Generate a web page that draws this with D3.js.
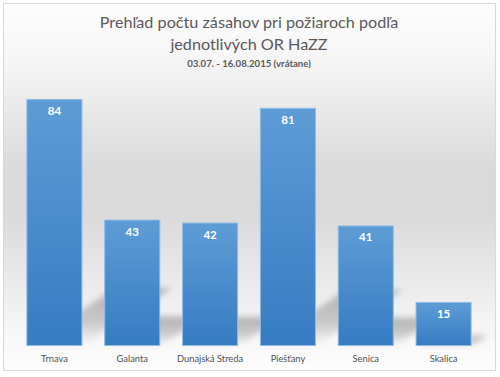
<!DOCTYPE html>
<html>
<head>
<meta charset="utf-8">
<script src="https://cdn.jsdelivr.net/npm/d3@7"></script>
<style>
  body { margin: 0; background: #fff; }
  svg { display: block; }
</style>
</head>
<body>
<svg id="chart" width="500" height="377"></svg>
<script>
// chart data
const categories = ['Trnava', 'Galanta', 'Dunajská Streda', 'Piešťany', 'Senica', 'Skalica'];
const values = [84, 43, 42, 81, 41, 15];
const titleLines = ['Prehľad počtu zásahov pri požiaroch podľa', 'jednotlivých OR HaZZ'];
const subtitle = '03.07. - 16.08.2015 (vrátane)';

const svg = d3.select('#chart');
const font = 'Lato, "Open Sans", sans-serif';
const defs = svg.append('defs');

// background gradient (white -> gray -> white)
const bg = defs.append('linearGradient').attr('id', 'bg').attr('x1', 0).attr('y1', 0).attr('x2', 0).attr('y2', 1);
[[0, '#fdfdfd'], [0.15, '#f6f6f6'], [0.45, '#dadada'], [0.58, '#dadada'], [0.9, '#f7f7f7'], [1, '#fdfdfd']]
    .forEach(([o, c]) => bg.append('stop').attr('offset', o).attr('stop-color', c));

const barGrad = defs.append('linearGradient').attr('id', 'bar').attr('x1', 0).attr('y1', 0).attr('x2', 0).attr('y2', 1);
barGrad.append('stop').attr('offset', 0).attr('stop-color', '#5d9cd6');
barGrad.append('stop').attr('offset', 1).attr('stop-color', '#367cc3');

const shadowGrad = defs.append('linearGradient').attr('id', 'shadow').attr('x1', 0).attr('y1', 0).attr('x2', 0).attr('y2', 1);
shadowGrad.append('stop').attr('offset', 0).attr('stop-color', '#a0a0a0').attr('stop-opacity', 0.8);
shadowGrad.append('stop').attr('offset', 0.6).attr('stop-color', '#a8a8a8').attr('stop-opacity', 0.55);
shadowGrad.append('stop').attr('offset', 1).attr('stop-color', '#c0c0c0').attr('stop-opacity', 0.05);

defs.append('filter').attr('id', 'blur').attr('x', '-20%').attr('y', '-20%').attr('width', '140%').attr('height', '140%')
    .append('feGaussianBlur').attr('stdDeviation', 3);

svg.append('rect')
    .attr('x', 3.5).attr('y', 3.5).attr('width', 492).attr('height', 367)
    .attr('fill', 'url(#bg)').attr('stroke', '#d9d9d9');

// scales
const x = d3.scaleBand().domain(categories).range([15.5, 482.5]).paddingInner(0.28).paddingOuter(0.14);
const y = d3.scaleLinear().domain([0, 90]).range([346, 81.4]);

// perspective shadows behind bars
const shadowK = 0.235, skew = 1.54;
svg.append('g').attr('filter', 'url(#blur)')
    .selectAll('path')
    .data(values)
    .join('path')
    .attr('fill', 'url(#shadow)')
    .attr('d', (d, i) => {
        const x0 = x(categories[i]), x1 = x0 + x.bandwidth();
        const base = y(0);
        const dy = (base - y(d)) * shadowK, dx = dy * skew;
        return `M${x0},${base}L${x1},${base}L${x1 + dx},${base - dy}L${x0 + dx},${base - dy}Z`;
    });

// bars
svg.append('g')
    .selectAll('rect')
    .data(values)
    .join('rect')
    .attr('x', (d, i) => x(categories[i]) + 0.5)
    .attr('y', d => y(d) + 0.5)
    .attr('width', x.bandwidth() - 1)
    .attr('height', d => y(0) - y(d) - 1)
    .attr('fill', 'url(#bar)')
    .attr('stroke', '#8dbbe4')
    .attr('stroke-width', 1);

// value labels
svg.append('g')
    .selectAll('text')
    .data(values)
    .join('text')
    .attr('x', (d, i) => x(categories[i]) + x.bandwidth() / 2)
    .attr('y', d => y(d) + 16)
    .attr('text-anchor', 'middle')
    .attr('font-family', font)
    .attr('font-size', 11.5)
    .attr('font-weight', 'bold')
    .attr('fill', '#fff')
    .text(d => d);

// category axis labels
svg.append('g')
    .selectAll('text')
    .data(categories)
    .join('text')
    .attr('x', d => x(d) + x.bandwidth() / 2)
    .attr('y', 362)
    .attr('text-anchor', 'middle')
    .attr('font-family', font)
    .attr('font-size', 9.3)
    .attr('fill', '#505050')
    .text(d => d);

// titles
svg.selectAll('text.title')
    .data(titleLines)
    .join('text')
    .attr('class', 'title')
    .attr('x', 249)
    .attr('y', (d, i) => 28 + i * 22)
    .attr('text-anchor', 'middle')
    .attr('font-family', font)
    .attr('font-size', 16.2)
    .attr('fill', '#595959')
    .text(d => d);

svg.append('text')
    .attr('x', 249)
    .attr('y', 67)
    .attr('text-anchor', 'middle')
    .attr('font-family', font)
    .attr('font-size', 9.6)
    .attr('font-weight', 'bold')
    .attr('fill', '#595959')
    .text(subtitle);
</script>
</body>
</html>
